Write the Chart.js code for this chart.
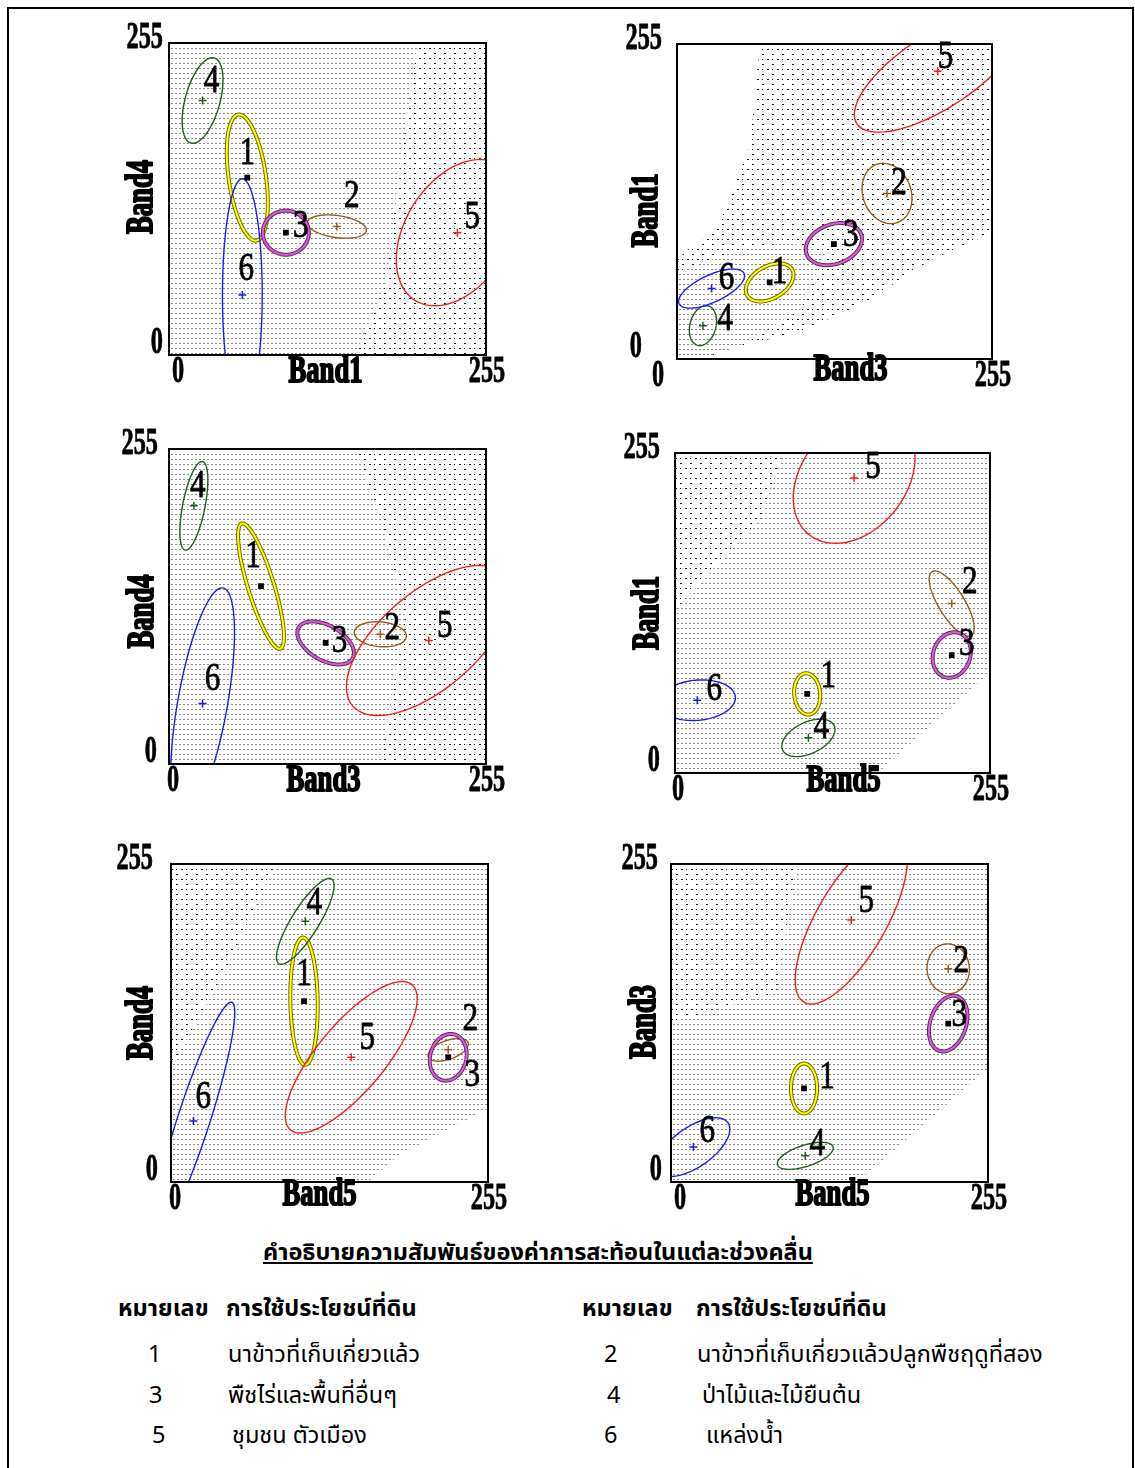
<!DOCTYPE html>
<html lang="th">
<head>
<meta charset="UTF-8">
<title>Band scatter plots</title>
<script src="https://cdn.jsdelivr.net/npm/chart.js"></script>
<style>
  body { margin:0; background:#fff; width:1135px; height:1468px; position:relative; overflow:hidden; }
  #frame { position:absolute; left:7px; top:7px; width:1127px; height:1480px; border:2px solid #000; box-sizing:border-box; }
  canvas { position:absolute; }
  .th { position:absolute; font-family:"Noto Sans Thai","Noto Sans Thai UI","Loma","Garuda","Tlwg Typo","Norasi","Noto Sans",sans-serif;
        font-size:23.5px; line-height:30px; color:#000; white-space:nowrap; }
  .b { font-weight:bold; }
</style>
</head>
<body>
<div id="frame"></div>
<canvas id="c1"></canvas><canvas id="c2"></canvas><canvas id="c3"></canvas>
<canvas id="c4"></canvas><canvas id="c5"></canvas><canvas id="c6"></canvas>

<div class="th b" style="left:263px;top:1238px;text-decoration:underline;">คำอธิบายความสัมพันธ์ของค่าการสะท้อนในแต่ละช่วงคลื่น</div>
<div class="th b" style="left:118px;top:1294px;">หมายเลข</div>
<div class="th b" style="left:226px;top:1294px;">การใช้ประโยชน์ที่ดิน</div>
<div class="th b" style="left:582px;top:1294px;">หมายเลข</div>
<div class="th b" style="left:696px;top:1294px;">การใช้ประโยชน์ที่ดิน</div>
<div class="th" style="left:148px;top:1340px;">1</div>
<div class="th" style="left:228px;top:1340px;">นาข้าวที่เก็บเกี่ยวแล้ว</div>
<div class="th" style="left:604px;top:1340px;">2</div>
<div class="th" style="left:697px;top:1340px;">นาข้าวที่เก็บเกี่ยวแล้วปลูกพืชฤดูที่สอง</div>
<div class="th" style="left:149px;top:1381px;">3</div>
<div class="th" style="left:228px;top:1381px;">พืชไร่และพื้นที่อื่นๆ</div>
<div class="th" style="left:607px;top:1381px;">4</div>
<div class="th" style="left:702px;top:1381px;">ป่าไม้และไม้ยืนต้น</div>
<div class="th" style="left:152px;top:1421px;">5</div>
<div class="th" style="left:232px;top:1421px;">ชุมชน ตัวเมือง</div>
<div class="th" style="left:604px;top:1421px;">6</div>
<div class="th" style="left:706px;top:1421px;">แหล่งน้ำ</div>

<script>
// class 1..6
const classNames = ['1', '2', '3', '4', '5', '6'];
const classColors = ['#ffff00', '#9b5a1a', '#d35fd3', '#1f5f1f', '#ff1a1a', '#1a1aff'];
const classEdges = ['#6e6e00', null, '#6a236a', null, null, null];
const tickLabels = ['0', '255'];
const axisNames = [['Band1', 'Band4'], ['Band3', 'Band1'], ['Band3', 'Band4'],
                   ['Band5', 'Band1'], ['Band5', 'Band4'], ['Band5', 'Band3']];

// class means (x, y) per panel
const p1Mean = [[63, 145], [135, 105], [94, 100], [27, 208], [232, 100], [59, 49]];
const p2Mean = [[75, 62], [170, 134], [127, 93], [21, 27], [211, 233], [28, 57]];
const p3Mean = [[74, 144], [170, 105], [126, 98], [20, 209], [209, 100], [27, 49]];
const p4Mean = [[107, 63], [224, 135], [224, 94], [108, 28], [145, 235], [18, 58]];
const p5Mean = [[107, 145], [223, 106], [223, 100], [108, 209], [145, 100], [18, 49]];
const p6Mean = [[107, 75], [223, 171], [223, 127], [108, 21], [145, 210], [18, 28]];

// ellipse semi axes and angle (deg) per class
const p1Ell = [[52, 15, 98], [24, 9, -8], [18.5, 18, 0], [36, 14, 75], [65, 42, 59], [95, 16, 90]];
const p2Ell = [[21, 13, 30], [25, 19.5, 110], [23.5, 16, 20], [16.5, 10.5, 75], [78, 30, 33], [29, 11, 25]];
const p3Ell = [[53, 10.5, 107], [21, 10, -5], [25, 14, -30], [36.5, 9, 79], [81, 39, 41], [95, 20, 80]];
const p4Ell = [[16.5, 10.5, 95], [30, 10.5, -58], [18.5, 15, 70], [23, 12.5, 25], [58, 42, 50], [31, 16, 5]];
const p5Ell = [[51, 11, 91], [17, 7.5, 20], [19, 14.5, 75], [40, 11, 58], [76, 27, 50], [100, 13, 72]];
const p6Ell = [[20, 10.5, 90], [20, 17, 95], [23, 14.5, 72], [23.5, 8.5, 18], [76, 28, 60], [34, 16, 35]];

// pixel cloud outlines (sparse part and dense part)
const p1Sparse = [[0, 0], [255, 0], [255, 255], [0, 255]];
const p1Dense = [[0, 0], [150, 0], [175, 60], [185, 150], [200, 255], [0, 255]];
const p2Sparse = [[0, 0], [0, 80], [8, 88], [32, 104], [59, 172], [67, 255], [255, 255], [255, 102], [205, 80], [151, 45], [97, 21], [35, 7], [19, 0]];
const p2Dense = [[0, 0], [0, 70], [40, 85], [90, 95], [120, 85], [100, 40], [50, 10], [20, 0]];
const p3Sparse = [[0, 0], [255, 0], [255, 255], [0, 255]];
const p3Dense = [[0, 0], [170, 0], [190, 120], [170, 200], [150, 255], [0, 255]];
const p4Sparse = [[0, 0], [164, 0], [255, 80], [255, 255], [0, 255]];
const p4Dense = [[0, 0], [164, 0], [255, 80], [255, 255], [87, 255], [69, 202], [2, 132], [0, 130]];
const p5Sparse = [[0, 0], [158, 0], [184, 22], [255, 59], [255, 255], [0, 255]];
const p5Dense = [[0, 0], [158, 0], [184, 22], [255, 59], [255, 255], [88, 255], [77, 240], [45, 172], [0, 92]];
const p6Sparse = [[0, 0], [150, 0], [255, 91], [255, 255], [0, 255]];
const p6Dense = [[0, 0], [150, 0], [255, 91], [255, 255], [101, 255], [85, 152], [0, 128]];

// number label offsets from the mean, px
const p1Lab = [[0, -24], [15, -30], [15, -6], [9, -19], [15, -15], [4, -25]];
const p2Lab = [[10, -10], [12, -10], [17, -8], [22, -6], [8, -13], [15, -10]];
const p3Lab = [[-8, -29], [12, -6], [14, -1], [4, -19], [16, -14], [10, -24]];
const p4Lab = [[21, -17], [18, -21], [15, -10], [13, -10], [19, -10], [17, -10]];
const p5Lab = [[0, -26], [22, -30], [24, 18], [9, -18], [16, -19], [10, -23]];
const p6Lab = [[23, -11], [13, -7], [11, -8], [12, -11], [15, -18], [14, -15]];

// plot rect [left, top, right, bottom], title offsets, tick offsets [x0, y0, y255]
const panels = [
  { id: 'c1', rect: [169, 43, 486, 355], mean: p1Mean, ell: p1Ell, sparse: p1Sparse, dense: p1Dense, lab: p1Lab, names: axisNames[0], xt: [-2, 17], yt: [-27, -2], tk: [9, -6, -6] },
  { id: 'c2', rect: [677, 44, 992, 359], mean: p2Mean, ell: p2Ell, sparse: p2Sparse, dense: p2Dense, lab: p2Lab, names: axisNames[1], xt: [16, 11], yt: [-30, 9], tk: [-19, -35, -15] },
  { id: 'c3', rect: [169, 449, 486, 764], mean: p3Mean, ell: p3Ell, sparse: p3Sparse, dense: p3Dense, lab: p3Lab, names: axisNames[2], xt: [-4, 17], yt: [-26, 5], tk: [4, -12, -11] },
  { id: 'c4', rect: [675, 453, 990, 773], mean: p4Mean, ell: p4Ell, sparse: p4Sparse, dense: p4Dense, lab: p4Lab, names: axisNames[3], xt: [11, 8], yt: [-27, 0], tk: [3, -15, -15] },
  { id: 'c5', rect: [171, 864, 488, 1182], mean: p5Mean, ell: p5Ell, sparse: p5Sparse, dense: p5Dense, lab: p5Lab, names: axisNames[4], xt: [-10, 13], yt: [-29, 0], tk: [4, -13, -18] },
  { id: 'c6', rect: [671, 864, 988, 1182], mean: p6Mean, ell: p6Ell, sparse: p6Sparse, dense: p6Dense, lab: p6Lab, names: axisNames[5], xt: [3, 13], yt: [-26, -1], tk: [9, -9, -13] }
];

const PAD = { left: 70, top: 35, right: 40, bottom: 45 };

function makeTile(w, h, dots, color) {
  const c = document.createElement('canvas');
  c.width = w; c.height = h;
  const g = c.getContext('2d');
  g.fillStyle = color;
  dots.forEach(d => g.fillRect(d[0], d[1], d[2], d[3]));
  return c;
}
const sparseTile = makeTile(10, 10, [[0, 0, 2, 1], [5, 5, 2, 1], [5, 0, 1, 1]], '#1a1a1a');
const denseTile = makeTile(4, 5, [[0, 0, 2, 1]], '#8a8a8a');

function polyPath(ctx, x, y, pts) {
  pts.forEach((p, i) => {
    const px = x.getPixelForValue(p[0]), py = y.getPixelForValue(p[1]);
    if (i === 0) ctx.moveTo(px, py); else ctx.lineTo(px, py);
  });
  ctx.closePath();
}

function condText(ctx, s, px, py, font, sx, align, rot, sw) {
  ctx.save();
  ctx.translate(px, py);
  if (rot) ctx.rotate(rot);
  ctx.scale(sx, 1);
  ctx.font = font;
  ctx.textAlign = align;
  ctx.textBaseline = 'middle';
  ctx.fillStyle = '#000';
  ctx.fillText(s, 0, 0);
  if (sw) {
    ctx.strokeStyle = '#000';
    ctx.lineWidth = sw;
    ctx.lineJoin = 'round';
    ctx.strokeText(s, 0, 0);
  }
  ctx.restore();
}

const bandPlugin = {
  id: 'bandPlugin',
  beforeDatasetsDraw(chart, args, opts) {
    const p = opts.panel;
    const { ctx, chartArea: a } = chart;
    const x = chart.scales.x, y = chart.scales.y;
    ctx.save();
    ctx.beginPath();
    ctx.rect(a.left, a.top, a.right - a.left, a.bottom - a.top);
    ctx.clip();
    // sparse dots outside dense part
    ctx.beginPath();
    polyPath(ctx, x, y, p.sparse);
    polyPath(ctx, x, y, p.dense);
    ctx.fillStyle = ctx.createPattern(sparseTile, 'repeat');
    ctx.fill('evenodd');
    ctx.beginPath();
    polyPath(ctx, x, y, p.dense);
    ctx.fillStyle = ctx.createPattern(denseTile, 'repeat');
    ctx.fill();
    // class ellipses
    p.ell.forEach((e, i) => {
      const m = p.mean[i];
      const th = e[2] * Math.PI / 180;
      ctx.beginPath();
      for (let k = 0; k <= 120; k++) {
        const t = k / 120 * Math.PI * 2;
        const ex = e[0] * Math.cos(t), ey = e[1] * Math.sin(t);
        const vx = m[0] + ex * Math.cos(th) - ey * Math.sin(th);
        const vy = m[1] + ex * Math.sin(th) + ey * Math.cos(th);
        const px = x.getPixelForValue(vx), py = y.getPixelForValue(vy);
        if (k === 0) ctx.moveTo(px, py); else ctx.lineTo(px, py);
      }
      ctx.closePath();
      if (classEdges[i]) {
        ctx.strokeStyle = classEdges[i]; ctx.lineWidth = 4; ctx.stroke();
        ctx.strokeStyle = classColors[i]; ctx.lineWidth = 2; ctx.stroke();
      } else {
        ctx.strokeStyle = classColors[i]; ctx.lineWidth = 1.4; ctx.stroke();
      }
    });
    ctx.restore();
  },
  afterDatasetsDraw(chart, args, opts) {
    const p = opts.panel;
    const { ctx, chartArea: a } = chart;
    const x = chart.scales.x, y = chart.scales.y;
    // class numbers
    p.mean.forEach((m, i) => {
      const px = x.getPixelForValue(m[0]) + p.lab[i][0];
      const py = y.getPixelForValue(m[1]) + p.lab[i][1];
      condText(ctx, classNames[i], px, py, '39px "Liberation Serif"', 0.8, 'center', 0, 0.8);
    });
    // frame
    ctx.save();
    ctx.strokeStyle = '#000';
    ctx.lineWidth = 2;
    ctx.strokeRect(a.left, a.top, a.right - a.left, a.bottom - a.top);
    ctx.restore();
    // ticks
    const tf = 'bold 38px "Liberation Serif"';
    condText(ctx, tickLabels[1], a.left + p.tk[2], a.top - 5, tf, 0.64, 'right', 0, 0.8);
    condText(ctx, tickLabels[0], a.left + p.tk[1], a.bottom - 12, tf, 0.64, 'right', 0, 0.8);
    condText(ctx, tickLabels[0], a.left + p.tk[0], a.bottom + 17, tf, 0.64, 'center', 0, 0.8);
    condText(ctx, tickLabels[1], a.right + 1, a.bottom + 17, tf, 0.64, 'center', 0, 0.8);
    // axis titles
    const hf = 'bold 37px "Liberation Serif"';
    condText(ctx, p.names[0], (a.left + a.right) / 2 + p.xt[0], a.bottom + p.xt[1], hf, 0.72, 'center', 0, 2);
    condText(ctx, p.names[1], a.left + p.yt[0], (a.top + a.bottom) / 2 + p.yt[1], hf, 0.72, 'center', -Math.PI / 2, 2);
  }
};

panels.forEach(p => {
  const cv = document.getElementById(p.id);
  const w = p.rect[2] - p.rect[0] + PAD.left + PAD.right;
  const h = p.rect[3] - p.rect[1] + PAD.top + PAD.bottom;
  cv.width = w; cv.height = h;
  cv.style.left = (p.rect[0] - PAD.left) + 'px';
  cv.style.top = (p.rect[1] - PAD.top) + 'px';
  cv.style.width = w + 'px';
  cv.style.height = h + 'px';

  const datasets = p.mean.map((m, i) => ({
    label: classNames[i],
    data: [{ x: m[0], y: m[1] }],
    pointStyle: (i === 0 || i === 2) ? 'rect' : 'cross',
    pointRadius: (i === 0 || i === 2) ? 3 : 4,
    backgroundColor: (i === 0 || i === 2) ? '#000' : classColors[i],
    borderColor: (i === 0 || i === 2) ? '#000' : classColors[i],
    borderWidth: 1.5
  }));

  new Chart(cv, {
    type: 'scatter',
    data: { datasets: datasets },
    options: {
      responsive: false,
      animation: false,
      devicePixelRatio: 1,
      layout: { padding: PAD },
      scales: {
        x: { type: 'linear', min: 0, max: 255, display: false },
        y: { type: 'linear', min: 0, max: 255, display: false }
      },
      plugins: {
        legend: { display: false },
        tooltip: { enabled: false },
        bandPlugin: { panel: p }
      }
    },
    plugins: [bandPlugin]
  });
});
</script>
</body>
</html>
